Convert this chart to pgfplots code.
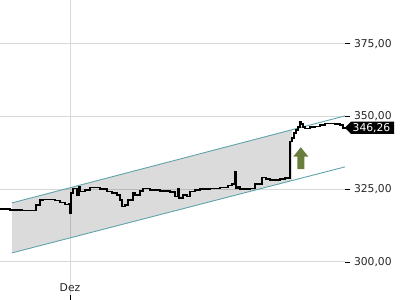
\documentclass[border=0pt]{standalone}
\usepackage{fontspec}
\setmainfont{DejaVu Sans}
\usepackage{pgfplots}
\pgfplotsset{compat=1.18}
\definecolor{chan}{RGB}{95,163,171}
\definecolor{arrowgreen}{RGB}{106,125,58}
\definecolor{gridc}{RGB}{217,217,217}
\begin{document}
\begin{tikzpicture}
\begin{axis}[
  at={(0,0)}, anchor=south west,
  scale only axis, width=345bp, height=300bp,
  xmin=0, xmax=345, ymin=286.9, ymax=390.0,
  axis line style={draw=none},
  clip=false,
  ytick={300,325,350,375},
  ytick pos=right,
  yticklabel pos=right,
  ytick align=outside,
  xtick={70}, xticklabels={Dez},
  xtick pos=bottom,
  xtick align=inside,
  major tick length=5bp,
  tick style={black, line width=0.6bp},
  grid=major,
  major grid style={gridc, line width=0.8bp},
  /pgf/number format/.cd, fixed, fixed zerofill, precision=2, use comma, 1000 sep={}, assume math mode=true,
  /pgfplots/.cd,
  tick label style={font=\fontsize{10.8}{12}\selectfont, text=black!85},
  yticklabel style={xshift=0.5bp},
  xticklabel style={anchor=base, yshift=9bp},
]
% channel fill
\addplot[draw=none, fill=black, fill opacity=0.14] coordinates {
  (12,320.27) (292,345.41) (292,327.95) (12,303.09)} -- cycle;
% channel lines
\addplot[chan, line width=0.9bp] coordinates {(12,320.27) (345,350.17)};
\addplot[chan, line width=0.9bp] coordinates {(12,303.09) (345,332.65)};
% price
\addplot[black, line width=1.5bp, const plot] coordinates {
(0,318.1) (10,317.8) (22,317.6) (35,317.7) (36,319.6) (40,321.3) (43,321.5)
(50,321.4) (55,321.1) (60,320.4) (65,319.8) (69,319.9) (70,316.7) (71,323.6)
(73,325.3) (77,323.0) (79,325.8) (80,324.2) (85,324.7) (90,325.5) (100,325.0)
(107,324.2) (112,323.6) (117,323.0) (120,321.3) (122,319.0) (125,319.6) (128,321.3)
(133,323.6) (135,323.0) (140,324.4) (143,325.3) (150,324.7) (160,324.4) (170,324.0)
(175,322.4) (178,325.3) (179,321.9) (183,323.0) (187,322.4) (190,324.2) (195,324.7)
(200,325.0) (210,325.3) (220,325.5) (228,326.2) (232,326.7) (235,331.0) (236,325.3)
(238,325.9) (240,325.0) (245,325.0) (250,325.3) (255,326.7) (262,329.0) (266,328.5)
(270,328.2) (280,328.4) (285,328.8) (290,341.3) (292,342.6) (294,344.3) (296,345.4)
(298,346.4) (300,348.2) (301,347.4) (303,346.4) (305,345.9) (310,346.3) (315,346.5)
(320,347.1) (325,347.6) (335,347.4) (340,347.1) (343,346.0) (345,346.26)};
% green arrow
\addplot[draw=none, fill=arrowgreen] coordinates {
  (300.8,339.4) (308.3,336.2) (304.3,336.2) (304.3,331.9) (297.3,331.9) (297.3,336.2) (293.3,336.2)} -- cycle;
\coordinate (P) at (axis cs:345,346.1);
\end{axis}
% last price label
\fill[black] (P) -- ([shift={(6bp,6.2bp)}]P) -- ([shift={(49bp,6.2bp)}]P) -- ([shift={(49bp,-6.2bp)}]P) -- ([shift={(6bp,-6.2bp)}]P) -- cycle;
\node[anchor=west, text=white, inner sep=0pt, font=\fontsize{10.8}{12}\selectfont] at ([xshift=7.5bp]P) {346,26};
\pgfresetboundingbox
\useasboundingbox (0,0) rectangle (400bp,300bp);
\end{tikzpicture}
\end{document}
